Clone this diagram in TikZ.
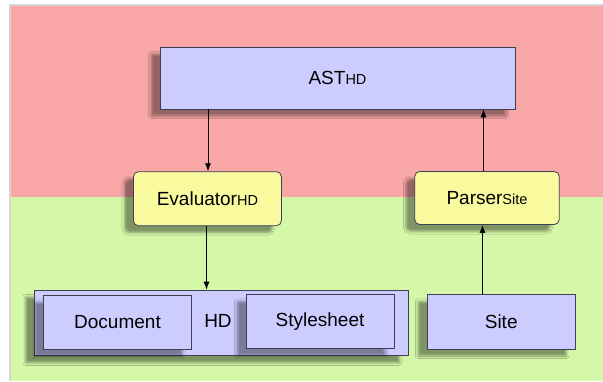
\documentclass[tikz,border=0pt]{standalone}
\usepackage{fontspec}
\setmainfont{Liberation Sans}
\usetikzlibrary{arrows.meta,shadows.blur}
\definecolor{bgpink}{HTML}{F9A6A6}
\definecolor{bggreen}{HTML}{D4F8A8}
\definecolor{bgline}{HTML}{D6D6D6}
\definecolor{boxblue}{HTML}{CCCCFF}
\definecolor{boxyellow}{HTML}{F9F99E}
\definecolor{boxline}{HTML}{404055}
\newcommand{\sm}[1]{{\fontsize{14.5}{16}\selectfont #1}}
\tikzset{
  base/.style={draw=boxline, line width=0.8pt, inner sep=0pt, anchor=center,
    font=\fontsize{19}{22}\selectfont,
    blur shadow={shadow xshift=-9pt, shadow yshift=-7pt, shadow blur radius=2.5pt, shadow opacity=40}},
  bluebox/.style={base, fill=boxblue},
  yelbox/.style={base, fill=boxyellow, rounded corners=5pt},
  conn/.style={line width=0.8pt, -{Latex[length=8pt,width=6pt]}}
}
\begin{document}
\begin{tikzpicture}[x=1pt,y=-1pt]
\useasboundingbox (0,0) rectangle (603,381);
\fill[white] (0,0) rectangle (603,381);
\fill[bgline] (9,4) rectangle (603,381);
\fill[bgpink] (11,6) rectangle (603,196.7);
\fill[bggreen] (11,196.7) rectangle (603,381);

\node[bluebox, minimum width=355pt, minimum height=62pt] (ast) at (337.5,78) {AST\sm{HD}};
\node[yelbox, minimum width=148pt, minimum height=54pt] (eval) at (207.4,198.7) {Evaluator\sm{HD}};
\node[yelbox, minimum width=144.5pt, minimum height=53pt] (parser) at (487,198) {Parser\sm{Site}};

\node[bluebox, minimum width=374pt, minimum height=65.7pt] (hd) at (221.5,322.9) {};
\node[bluebox, minimum width=148pt, minimum height=54pt] (doc) at (117.5,322.3) {Document};
\node[bluebox, minimum width=148pt, minimum height=54.4pt] (style) at (320,321.5) {Stylesheet};
\node[font=\fontsize{19}{22}\selectfont, inner sep=0pt] (hdlabel) at (218,320.5) {HD};
\node[bluebox, minimum width=148.4pt, minimum height=54.7pt] (site) at (501.2,321.7) {Site};

\coordinate (xa) at (208,0);
\coordinate (xb) at (483.5,0);
\coordinate (xc) at (206.5,0);
\coordinate (xd) at (482.5,0);

\draw[conn] (ast.south -| xa) -- (eval.north -| xa);
\draw[conn] (parser.north -| xb) -- (ast.south -| xb);
\draw[conn] (eval.south -| xc) -- (hd.north -| xc);
\draw[conn] (site.north -| xd) -- (parser.south -| xd);
\end{tikzpicture}
\end{document}
